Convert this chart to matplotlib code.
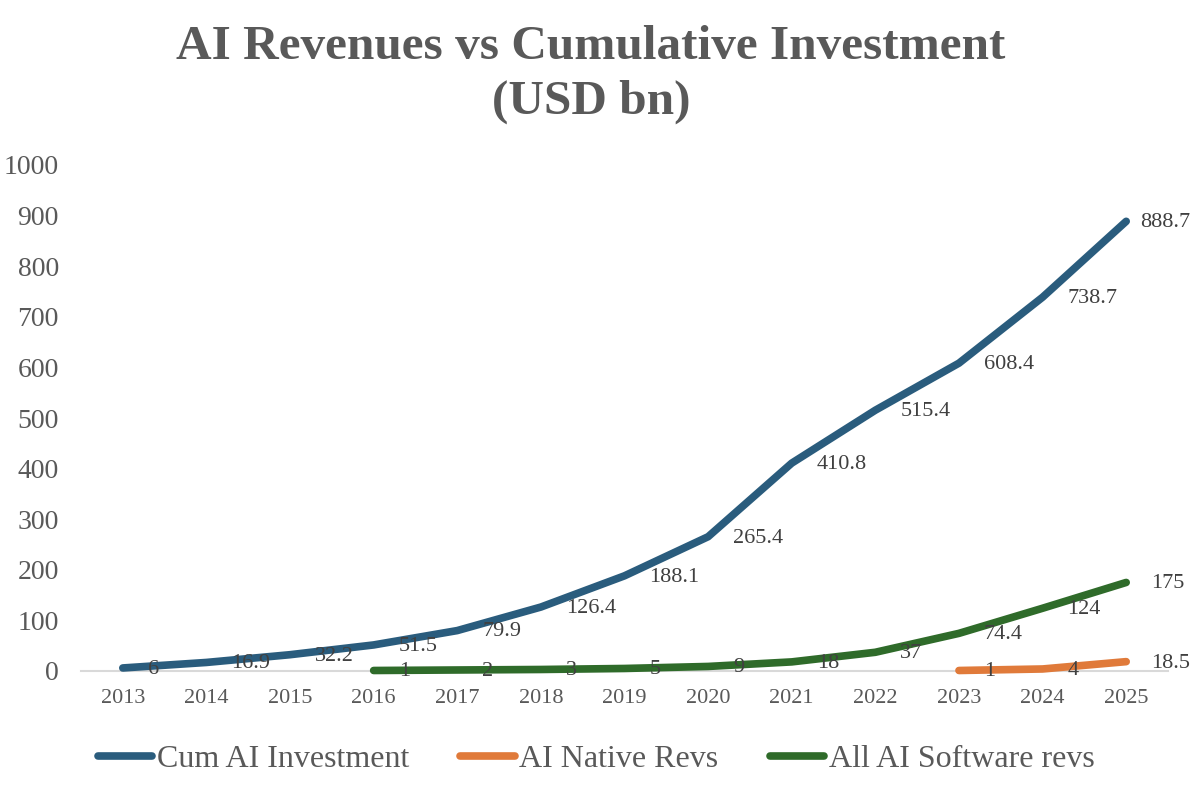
import matplotlib
matplotlib.use("Agg")
import matplotlib.pyplot as plt

years = ["2013", "2014", "2015", "2016", "2017", "2018", "2019",
         "2020", "2021", "2022", "2023", "2024", "2025"]
cum_invest = [6, 16.9, 32.2, 51.5, 79.9, 126.4, 188.1, 265.4, 410.8, 515.4, 608.4, 738.7, 888.7]
native_years = ["2023", "2024", "2025"]
native_revs = [1, 4, 18.5]
software_years = ["2016", "2017", "2018", "2019", "2020", "2021", "2022", "2023", "2024", "2025"]
software_revs = [1, 2, 3, 5, 9, 18, 37, 74.4, 124, 175]
yticks = [0, 100, 200, 300, 400, 500, 600, 700, 800, 900, 1000]

plt.rcParams['font.family'] = ['Liberation Serif', 'DejaVu Serif']

W, H = 1200, 801
fig = plt.figure(figsize=(W / 100, H / 100), dpi=100)
ax = fig.add_axes([81 / W, (H - 671) / H, (1168 - 81) / W, (671 - 165) / H])

idx = {y: i for i, y in enumerate(years)}
blue = "#2A5C7D"
orange = "#E07A3A"
green = "#2F6B2A"
lab_col = "#404040"
tick_col = "#595959"

series = [
    ("Cum AI Investment", years, cum_invest, blue),
    ("AI Native Revs", native_years, native_revs, orange),
    ("All AI Software revs", software_years, software_revs, green),
]
for name, xs, vals, col in series:
    xi = [idx[x] for x in xs]
    ax.plot(xi, vals, color=col, lw=5.5, solid_capstyle="round",
            solid_joinstyle="round", label=name, clip_on=False)
    for j, (x, v) in enumerate(zip(xi, vals)):
        off = 25
        if name == "Cum AI Investment" and j == len(vals) - 1:
            off = 14
        ax.annotate(f"{v:g}", (x, v), xytext=(off * 0.72, -1), textcoords="offset points",
                    ha="left", va="center", fontsize=16, color=lab_col, zorder=5)

ax.set_xlim(-0.5, len(years) - 0.5)
ax.set_ylim(0, 1000)
ax.set_xticks(range(len(years)))
ax.set_xticklabels(years, fontsize=16, color=tick_col)
ax.set_yticks(yticks)
ax.set_yticklabels([str(t) for t in yticks], fontsize=20, color=tick_col)
ax.tick_params(axis="both", length=0)
ax.tick_params(axis="y", pad=16)
ax.tick_params(axis="x", pad=13)
for s in ["top", "right", "left"]:
    ax.spines[s].set_visible(False)
ax.spines["bottom"].set_color("#D9D9D9")
ax.spines["bottom"].set_linewidth(1.5)
ax.spines["bottom"].set_zorder(0)

fig.text(591 / W, 1 - 47 / H, "AI Revenues vs Cumulative Investment",
         ha="center", va="center", fontsize=35.5, fontweight="bold", color="#595959")
fig.text(591 / W, 1 - 102 / H, "(USD bn)",
         ha="center", va="center", fontsize=35.5, fontweight="bold", color="#595959")

leg = fig.legend(loc="center", bbox_to_anchor=(596 / W, 42 / H), ncol=3,
                 frameon=False, fontsize=23, handlelength=1.7, handletextpad=0.15,
                 columnspacing=1.6)
for t in leg.get_texts():
    t.set_color(tick_col)

fig.savefig("out.png", dpi=100, facecolor="white")
